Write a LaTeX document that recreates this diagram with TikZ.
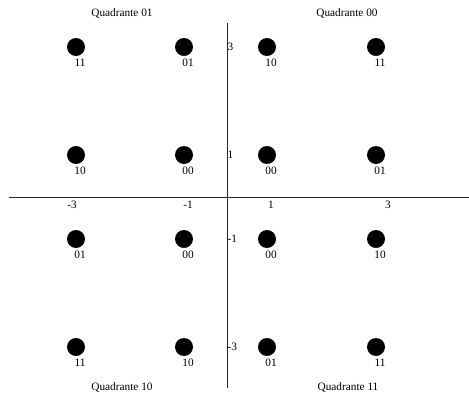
\documentclass[tikz,border=0pt]{standalone}
\usepackage{fontspec}
\setmainfont{Liberation Serif}
\begin{document}
\begin{tikzpicture}[x=1pt,y=-1pt,font=\fontsize{11.3}{12}\selectfont,
	diem/.style={circle,fill=black,inner sep=0pt,minimum size=18pt},
	nhan/.style={inner sep=0pt}]
			\useasboundingbox (0,0)rectangle(469,396);
			% truc toa do
			\coordinate (Xt) at (9,197);
			\coordinate (Xp) at (469,197);
			\coordinate (Yt) at (227,23);
			\coordinate (Yd) at (227,388);
			\draw[line width=0.8pt,black!85] (Xt)--(Xp);
			\draw[line width=0.8pt,black!85] (Yt)--(Yd);
			% vach chia
			\foreach \x/\t in {72/-3,188/-1,271/1,388/3}
			\path (\x,205) node[nhan] (tx\t) {\t};
			\foreach \y/\t in {47/3,155/1,239/-1,347/-3}
			\path (227.5,\y) node[nhan,anchor=west] (ty\t) {\t};
			% cac diem
			\foreach \y/\r/\a/\b/\c/\d in {47/1/11/01/10/11,155/2/10/00/00/01,239/3/01/00/00/10,347/4/11/10/01/11}{
				\foreach \x/\k/\m in {76/1/\a,184/2/\b,267/3/\c,376/4/\d}{
					\path (\x,\y) node[diem] (P\r\k) {};
					\path (\x+4,\y+16) node[nhan] (L\r\k) {\m};
				}
			}
			% goc phan tu
			\path (122,13) node[nhan] (Q01) {Quadrante 01}
			(347,13) node[nhan] (Q00) {Quadrante 00}
			(122,387) node[nhan] (Q10) {Quadrante 10}
			(348,387) node[nhan] (Q11) {Quadrante 11};
		\end{tikzpicture}
\end{document}
